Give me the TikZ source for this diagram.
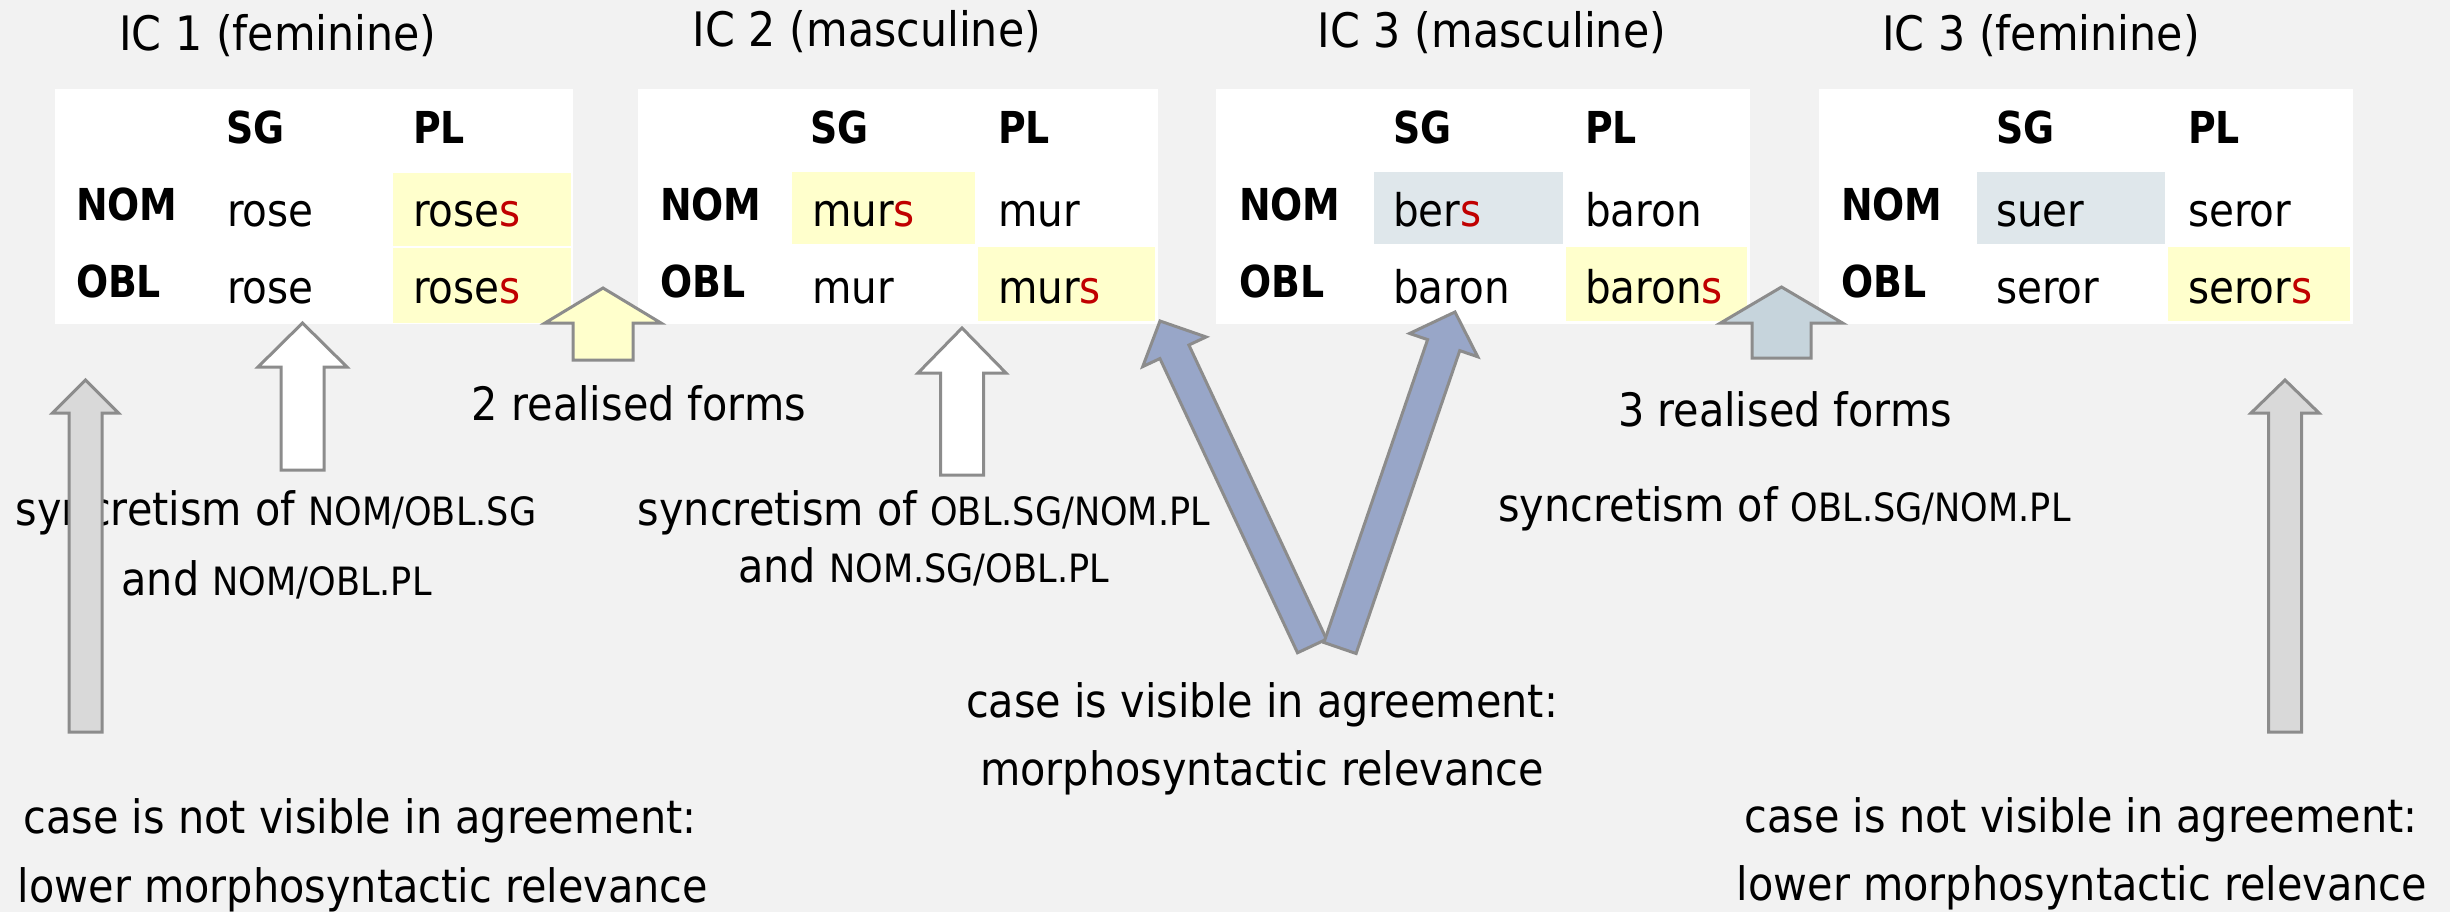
\documentclass[tikz,border=0pt]{standalone}
\usepackage{fontspec}
\setmainfont{DejaVu Sans}[FakeStretch=0.9]
\newfontfamily\headfont{DejaVu Sans}[FakeStretch=0.86]
\usetikzlibrary{calc}

\definecolor{bg}{HTML}{F2F2F2}
\definecolor{hlyellow}{HTML}{FFFFCC}
\definecolor{hlblue}{HTML}{DFE7EB}
\definecolor{edge}{HTML}{8C8C8C}
\definecolor{greyfill}{HTML}{D9D9D9}
\definecolor{steel}{HTML}{98A6C8}
\definecolor{slate}{HTML}{C6D4DC}
\definecolor{inflred}{HTML}{C00000}

% gloss abbreviations in reduced capitals
\newcommand\gl[1]{{\fontsize{39}{47}\selectfont #1}}
% red inflectional ending
\newcommand\infl[1]{\textcolor{inflred}{#1}}

% block arrow: #1 style, #2 base, #3 tip, #4 shaft half width,
% #5 head half width, #6 head length
\newcommand\blockarrow[6]{%
  \coordinate (#2-neck) at ($(#3)!#6!(#2)$);
  \filldraw[blk,#1] ($(#2)!#4!90:(#3)$) -- ($(#2-neck)!#4!90:(#3)$)
    -- ($(#2-neck)!#5!90:(#3)$) -- (#3)
    -- ($(#2-neck)!#5!-90:(#3)$) -- ($(#2-neck)!#4!-90:(#3)$)
    -- ($(#2)!#4!-90:(#3)$) -- cycle;
}

\tikzset{
  every node/.style={inner sep=0pt, outer sep=0pt},
  ictitle/.style={anchor=base, font=\fontsize{47.5}{57}\selectfont},
  txt/.style={anchor=base, font=\fontsize{46}{55}\selectfont},
  formcell/.style={anchor=base west, font=\fontsize{45}{54}\selectfont},
  colhead/.style={anchor=base west, font=\fontsize{44}{53}\headfont\bfseries},
  tabbox/.style={fill=white, anchor=north west, minimum height=235pt},
  hly/.style={fill=hlyellow},
  hlb/.style={fill=hlblue},
  blk/.style={draw=edge, line width=3pt, line join=miter},
}

\begin{document}
\begin{tikzpicture}[x=1pt, y=-1pt]
\useasboundingbox[fill=bg] (0,0) rectangle (2450,912);

% ---------- IC 1 (feminine) ----------
\node[ictitle] (ti1) at (278,51) {IC 1 (feminine)};
\node[tabbox, minimum width=518pt] (t1) at (55,89) {};
\fill[hly] (393,173) rectangle (571,246);
\fill[hly] (393,248) rectangle (571,323);
\node[colhead] (t1sg) at (226,144) {SG};
\node[colhead] (t1pl) at (413,144) {PL};
\node[colhead] (t1nom) at (76,221) {NOM};
\node[colhead] (t1obl) at (76,298) {OBL};
\node[formcell] (t1a) at (227,226) {rose};
\node[formcell] (t1b) at (413,226) {rose\infl{s}};
\node[formcell] (t1c) at (227,303) {rose};
\node[formcell] (t1d) at (413,303) {rose\infl{s}};

% ---------- IC 2 (masculine) ----------
\node[ictitle] (ti2) at (867,47) {IC 2 (masculine)};
\node[tabbox, minimum width=520pt] (t2) at (638,89) {};
\fill[hly] (792,172) rectangle (975,244);
\fill[hly] (978,247) rectangle (1155,321);
\node[colhead] (t2sg) at (810,144) {SG};
\node[colhead] (t2pl) at (998,144) {PL};
\node[colhead] (t2nom) at (660,221) {NOM};
\node[colhead] (t2obl) at (660,298) {OBL};
\node[formcell] (t2a) at (812,226) {mur\infl{s}};
\node[formcell] (t2b) at (998,226) {mur};
\node[formcell] (t2c) at (812,303) {mur};
\node[formcell] (t2d) at (998,303) {mur\infl{s}};

% ---------- IC 3 (masculine) ----------
\node[ictitle] (ti3) at (1492,48) {IC 3 (masculine)};
\node[tabbox, minimum width=534pt] (t3) at (1216,89) {};
\fill[hlb] (1374,172) rectangle (1563,244);
\fill[hly] (1566,247) rectangle (1747,321);
\node[colhead] (t3sg) at (1393,144) {SG};
\node[colhead] (t3pl) at (1585,144) {PL};
\node[colhead] (t3nom) at (1239,221) {NOM};
\node[colhead] (t3obl) at (1239,298) {OBL};
\node[formcell] (t3a) at (1393,226) {ber\infl{s}};
\node[formcell] (t3b) at (1585,226) {baron};
\node[formcell] (t3c) at (1393,303) {baron};
\node[formcell] (t3d) at (1585,303) {baron\infl{s}};

% ---------- IC 3 (feminine) ----------
\node[ictitle] (ti4) at (2041,51) {IC 3 (feminine)};
\node[tabbox, minimum width=534pt] (t4) at (1819,89) {};
\fill[hlb] (1977,172) rectangle (2165,244);
\fill[hly] (2168,247) rectangle (2350,321);
\node[colhead] (t4sg) at (1996,144) {SG};
\node[colhead] (t4pl) at (2188,144) {PL};
\node[colhead] (t4nom) at (1841,221) {NOM};
\node[colhead] (t4obl) at (1841,298) {OBL};
\node[formcell] (t4a) at (1996,226) {suer};
\node[formcell] (t4b) at (2188,226) {seror};
\node[formcell] (t4c) at (1996,303) {seror};
\node[formcell] (t4d) at (2188,303) {seror\infl{s}};

% ---------- explanatory texts ----------
\node[txt] (real2) at (639,420) {2 realised forms};
\node[txt] (real3) at (1785,426) {3 realised forms};
\node[txt] (syn1a) at (276,525) {syncretism of \gl{NOM/OBL.SG}};
\node[txt] (syn1b) at (276.5,595) {and \gl{NOM/OBL.PL}};
\node[txt] (syn2a) at (924,525) {syncretism of \gl{OBL.SG/NOM.PL}};
\node[txt] (syn2b) at (923.5,582) {and \gl{NOM.SG/OBL.PL}};
\node[txt] (syn3) at (1784.5,521) {syncretism of \gl{OBL.SG/NOM.PL}};
\node[txt] (visa) at (1262,717) {case is visible in agreement:};
\node[txt] (visb) at (1262,785) {morphosyntactic relevance};
\node[txt] (nla) at (360,833) {case is not visible in agreement:};
\node[txt] (nlb) at (363,902) {lower morphosyntactic relevance};
\node[txt] (nra) at (2081,832) {case is not visible in agreement:};
\node[txt] (nrb) at (2082,900) {lower morphosyntactic relevance};

% ---------- arrow ends ----------
\coordinate (gL0) at (85.5,732);  \coordinate (gL1) at (85.5,380);
\coordinate (gR0) at (2285,732);  \coordinate (gR1) at (2285,380);
\coordinate (w10) at (302.5,470); \coordinate (w11) at (302.5,323);
\coordinate (w20) at (962,475);   \coordinate (w21) at (962,328);
\coordinate (y0) at (603,360);    \coordinate (y1) at (603,288);
\coordinate (s0) at (1781.5,358); \coordinate (s1) at (1781.5,287);
\coordinate (bL0) at (1312,646);  \coordinate (bL1) at (1160,321);
\coordinate (bR0) at (1340,648);  \coordinate (bR1) at (1455,312);

% ---------- block arrows ----------
\blockarrow{fill=greyfill}{gL0}{gL1}{16.5pt}{33pt}{33pt}
\blockarrow{fill=greyfill}{gR0}{gR1}{16.5pt}{34pt}{33pt}
\blockarrow{fill=white}{w10}{w11}{21.5pt}{44.5pt}{44pt}
\blockarrow{fill=white}{w20}{w21}{21.5pt}{44pt}{45pt}
\blockarrow{fill=hlyellow}{y0}{y1}{30pt}{58pt}{35pt}
\blockarrow{fill=slate}{s0}{s1}{29.5pt}{61pt}{36pt}
\blockarrow{fill=steel}{bL0}{bL1}{16pt}{35pt}{34pt}
\blockarrow{fill=steel}{bR0}{bR1}{17pt}{36pt}{35pt}
\end{tikzpicture}
\end{document}
